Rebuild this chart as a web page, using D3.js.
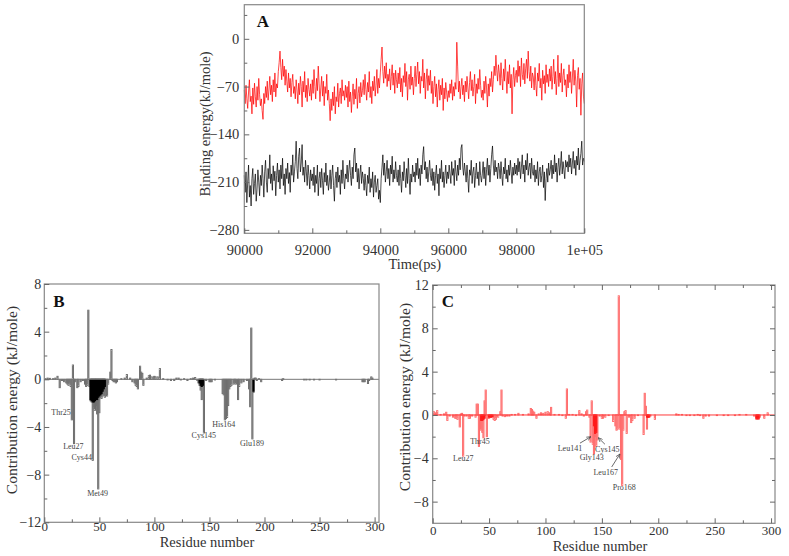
<!DOCTYPE html>
<html><head><meta charset="utf-8">
<script src="https://cdn.jsdelivr.net/npm/d3@7"></script>
<style>
body{margin:0;background:#fff}
svg{display:block}
text{font-family:"Liberation Serif","Times New Roman",serif}
</style>
</head><body><svg id="c" width="789" height="556"></svg>
<script>
// ---------- Panel A data (binding energy vs time, one value per 25 ps) ----------
const timeStart = 90000, timeStep = 25;
const redEnergy = [
-75,-95,-68,-88,-102,-78,-60,-92,-84,-110,-72,-96,-65,-85,-100,-70,-90,-58,-82,-98,
-88,-105,-118,-80,-95,-70,-86,-62,-90,-75,-55,-82,-68,-92,-60,-78,-50,-85,-66,-72,
-48,-35,-18,-42,-60,-30,-55,-40,-68,-45,-62,-78,-50,-72,-58,-85,-64,-52,-80,-70,
-88,-60,-75,-95,-65,-82,-55,-70,-100,-62,-78,-48,-86,-68,-92,-58,-74,-84,-66,-90,
-60,-80,-45,-70,-88,-58,-76,-40,-66,-92,-72,-55,-84,-62,-98,-70,-80,-52,-90,-75,
-95,-120,-88,-105,-78,-98,-70,-110,-85,-92,-65,-100,-80,-72,-95,-60,-84,-76,-90,-68,
-86,-70,-100,-62,-92,-78,-108,-84,-66,-96,-74,-88,-58,-102,-80,-70,-94,-64,-85,-76,
-60,-82,-52,-74,-90,-64,-78,-48,-86,-70,-95,-62,-76,-55,-84,-68,-45,-80,-58,-72,
-50,-30,-12,-48,-65,-40,-58,-35,-70,-52,-62,-44,-75,-55,-38,-68,-50,-80,-46,-60,
-72,-50,-66,-42,-78,-58,-85,-54,-64,-36,-70,-48,-90,-60,-52,-74,-40,-68,-56,-82,
-58,-40,-70,-52,-34,-66,-48,-80,-55,-62,-30,-72,-50,-88,-60,-44,-76,-54,-68,-46,
-80,-62,-95,-70,-55,-85,-66,-100,-74,-60,-90,-68,-82,-58,-105,-72,-88,-64,-78,-92,
-76,-86,-66,-80,-60,-90,-70,-84,-64,-74,-5,-40,-78,-62,-88,-70,-58,-82,-68,-92,
-62,-78,-55,-72,-88,-64,-48,-76,-60,-84,-70,-52,-95,-66,-80,-58,-74,-45,-68,-86,
-75,-90,-62,-80,-55,-72,-100,-66,-84,-58,-70,-48,-78,-60,-40,-54,-24,-46,-62,-38,
-50,-68,-35,-58,-75,-44,-62,-30,-56,-80,-48,-66,-38,-72,-52,-110,-60,-42,-70,-54,
-46,-64,-32,-55,-40,-70,-28,-52,-60,-36,-66,-44,-30,-58,-18,-48,-62,-40,-72,-50,
-56,-75,-42,-68,-84,-50,-62,-36,-72,-58,-90,-46,-66,-54,-80,-38,-64,-52,-70,-44,
-62,-40,-74,-55,-30,-66,-48,-82,-58,-24,-70,-50,-64,-36,-78,-54,-44,-68,-60,-85,
-52,-72,-38,-64,-48,-80,-56,-30,-68,-46,-62,-100,-54,-42,-74,-58,-112,-66,-50,-84,
-95
];
const blackEnergy = [
-200,-225,-195,-240,-210,-185,-232,-215,-245,-205,-190,-228,-212,-198,-238,-220,-192,-210,-230,-200,
-215,-185,-205,-232,-195,-178,-210,-225,-190,-205,-170,-212,-198,-222,-186,-208,-194,-230,-200,-182,
-210,-192,-220,-185,-205,-175,-215,-198,-228,-190,-205,-182,-212,-196,-225,-185,-200,-170,-210,-195,
-180,-150,-190,-205,-172,-160,-195,-182,-155,-200,-188,-210,-178,-195,-215,-185,-200,-220,-192,-208,
-198,-215,-188,-225,-200,-212,-185,-230,-205,-195,-218,-190,-208,-228,-196,-210,-182,-215,-200,-222,
-210,-192,-220,-200,-185,-215,-238,-205,-195,-218,-188,-210,-200,-228,-192,-212,-178,-205,-220,-198,
-205,-185,-210,-192,-178,-200,-215,-188,-205,-170,-160,-195,-182,-210,-190,-220,-198,-185,-212,-195,
-205,-222,-198,-215,-230,-200,-212,-188,-225,-205,-218,-195,-232,-210,-200,-225,-215,-205,-235,-222,
-240,-205,-188,-170,-200,-182,-210,-195,-178,-205,-190,-215,-185,-198,-172,-210,-192,-205,-180,-200,
-210,-192,-215,-185,-205,-225,-195,-208,-180,-200,-218,-190,-212,-175,-205,-228,-198,-210,-185,-202,
-195,-210,-182,-200,-175,-205,-190,-215,-185,-198,-170,-158,-192,-180,-205,-188,-210,-195,-178,-200,
-208,-190,-215,-195,-222,-200,-185,-212,-198,-230,-190,-205,-178,-210,-195,-218,-200,-185,-212,-195,
-205,-185,-198,-212,-180,-200,-190,-215,-178,-195,-208,-185,-200,-175,-192,-160,-155,-188,-200,-182,
-195,-210,-185,-205,-225,-192,-200,-178,-212,-195,-188,-218,-200,-182,-205,-195,-215,-180,-200,-210,
-198,-180,-205,-188,-215,-192,-175,-200,-185,-210,-190,-170,-157,-185,-200,-178,-195,-188,-205,-182,
-190,-205,-180,-200,-215,-188,-198,-175,-205,-192,-210,-185,-200,-178,-195,-212,-188,-200,-182,-198,
-185,-200,-175,-195,-180,-205,-188,-170,-198,-185,-210,-178,-192,-168,-200,-188,-182,-205,-175,-195,
-200,-185,-210,-192,-205,-180,-215,-195,-188,-210,-200,-185,-218,-195,-237,-205,-190,-210,-182,-200,
-192,-178,-205,-185,-198,-170,-195,-182,-210,-188,-175,-200,-185,-165,-198,-180,-192,-205,-178,-188,
-180,-195,-170,-188,-175,-198,-182,-165,-190,-178,-200,-172,-185,-160,-192,-178,-168,-150,-185,-175,
-180
];
const aYTicks = [0, -70, -140, -210, -280];
const aYMinor = [35, -35, -105, -175, -245];
const aXTicks = [90000, 92000, 94000, 96000, 98000, 100000];
const aXTickLabels = ["90000", "92000", "94000", "96000", "98000", "1e+05"];
const aXMinor = [91000, 93000, 95000, 97000, 99000];

// ---------- Panel B data (per-residue contribution energy) ----------
const bResidues = [1,3,5,8,10,12,14,16,18,20,21,22,23,24,25,26,27,28,30,31,33,35,37,38,39,40,41,42,43,44,45,46,47,48,49,50,51,52,53,54,55,56,57,58,60,61,62,63,64,65,66,70,73,75,78,80,82,83,84,85,87,88,89,90,93,95,96,97,99,100,101,103,105,108,112,115,118,120,122,124,127,130,133,135,137,139,140,141,142,143,144,145,147,150,151,152,155,162,163,164,165,166,167,168,169,170,172,173,174,176,177,179,181,184,186,187,188,189,190,191,192,193,195,197,216,217,236,238,241,245,250,265,289,290,291,294,295,297,298];
const bValues = [0.05,0.1,0.08,0.05,0.1,0.25,-0.7,-0.1,-0.2,-0.3,-0.4,-0.5,-0.3,-0.6,-3.4,1.2,-5.4,-0.2,-0.7,-0.6,-0.2,-0.1,-0.4,-0.6,-0.5,5.8,-0.6,-1.8,-1.9,-6.8,-2.4,-2.6,-2.2,-2.9,-9.2,-2.8,-1.5,-1.6,-1.4,-1.3,-1.5,-1.0,-1.4,-0.4,0.6,2.5,-0.1,-0.2,-0.2,-0.3,-0.2,0.05,0.1,0.4,0.1,-0.2,-0.3,-0.5,-0.6,-0.8,1.1,0.6,0.5,-0.5,0.1,0.3,0.35,0.2,0.2,0.25,0.2,0.2,0.9,0.05,-0.05,-0.1,-0.1,0.1,0.1,-0.05,0.05,-0.1,0.05,0.1,0.15,-0.1,-0.3,-0.5,-0.9,-1.7,-0.6,-4.5,-0.1,-0.2,-0.2,-0.2,-0.05,-1.2,-1.3,-3.4,-3.3,-3.2,-2.2,-0.8,-0.6,-0.5,-0.4,-0.3,-0.4,-1.7,-0.6,-0.3,-0.2,-0.1,-0.8,-2.3,4.3,-5.0,-1.1,0.1,0.1,-0.1,0.05,-0.2,-0.1,0.05,-0.05,-0.05,-0.05,-0.05,-0.05,-0.05,-0.2,-0.2,-0.2,-0.35,-0.1,0.2,0.1];
const bDarkResidues = [42,43,44,45,46,47,48,49,50,51,52,53,54,55,141,142,143,144,190];
const bDarkValues = [-1.7,-1.8,-1.9,-1.9,-1.8,-1.7,-1.7,-1.5,-1.4,-1.3,-1.2,-1.0,-0.8,-0.6,-0.3,-0.5,-0.6,-0.5,-1.0];
const bLabelNames = ["Thr25","Leu27","Cys44","Met49","Cys145","His164","Glu189"];
const bLabelRes = [15.2, 26.4, 34.0, 48.4, 144.9, 163.0, 188.7];
const bLabelVal = [-2.8, -5.6, -6.5, -9.57, -4.7, -3.75, -5.32];

// ---------- Panel C data ----------
const cResidues = [1,3,4,7,10,12,13,15,18,20,21,22,24,25,26,27,28,30,32,33,35,38,39,40,41,42,43,44,45,46,47,48,49,50,52,54,55,56,58,60,61,62,64,66,68,70,73,76,80,85,87,88,89,90,92,94,96,98,100,102,104,105,108,112,115,118,119,121,124,127,130,132,134,136,137,139,140,141,142,143,144,145,146,148,150,151,153,156,160,162,163,164,165,166,167,168,169,170,171,172,174,176,177,179,182,187,188,189,190,191,193,197,216,218,221,225,228,232,235,237,240,242,245,252,258,262,268,272,278,285,287,288,289,290,294,297];
const cValues = [0.3,0.2,0.4,0.05,0.1,0.25,-0.5,-0.1,-0.2,-0.3,-0.3,-0.4,-1.1,0.1,0.15,-3.8,-0.1,-0.1,-0.3,-0.3,-0.1,-0.2,1.0,1.0,-2.9,-1.4,-1.3,-1.6,-2.1,1.3,2.3,-2.0,-0.3,-0.3,-0.2,-0.4,-0.5,-0.4,-0.2,0.3,2.3,-0.1,-0.15,-0.1,-0.1,0.05,0.05,0.15,0.05,0.1,0.6,0.5,0.35,0.25,-0.3,0.1,0.2,0.15,0.25,0.3,0.2,0.7,0.05,0.05,-0.05,-0.3,2.4,0.05,0.05,-0.05,0.4,0.1,-0.1,0.3,0.45,-0.2,-2.5,1.3,-2.7,-3.6,-2.0,-2.9,-2.3,-0.1,-0.3,-0.3,-0.2,-0.05,-0.6,-1.0,-1.4,-1.3,11.0,-1.3,-4.1,-6.5,-1.4,0.3,0.4,-1.7,-0.2,-0.7,-0.5,-0.3,-0.05,-1.8,2.0,0.8,-1.3,-0.2,-0.1,-0.4,0.1,0.05,0.05,-0.05,-0.05,-0.05,0.05,-0.05,-0.3,-0.1,-0.1,-0.05,-0.05,-0.05,-0.05,0.05,0.05,-0.1,-0.4,-0.4,-0.4,-0.2,-0.3,0.2];
const cDarkResidues = [43,44,45,46,50,51,52,53,143,144,145,190,191,192,287,288,289];
const cDarkValues = [-0.5,-0.5,-0.4,-0.3,-0.2,-0.2,-0.2,-0.15,-1.0,-1.7,-1.6,-0.2,-0.2,-0.2,-0.3,-0.35,-0.3];
const cLabelNames = ["Leu27","Thr45","Leu141","Gly143","Cys145","Leu167","Pro168"];
const cLabelRes = [27.1, 41.9, 121.7, 141, 154.8, 153.4, 169.9];
const cLabelVal = [-4.0, -2.4, -3.08, -3.94, -3.14, -5.3, -6.68];
const cArrowFromRes = [130.6, 152.7, 158.7], cArrowFromVal = [-2.6, -2.7, -4.8];
const cArrowToRes = [140.3, 146.8, 166.0], cArrowToVal = [-2.0, -2.1, -3.6];

const resTicks = [0, 50, 100, 150, 200, 250, 300];
const resMinor = [25, 75, 125, 175, 225, 275];
const bYTicks = [8, 4, 0, -4, -8, -12];
const cYTicks = [12, 8, 4, 0, -4, -8];
const contribMinorB = [6, 2, -2, -6, -10];
const contribMinorC = [10, 6, 2, -2, -6];

// ---------- drawing ----------
const svg = d3.select("#c");

function styleAxis(a, size) {
  a.select(".domain").remove();
  a.attr("font-family", null).attr("font-size", size);
  a.selectAll("line").attr("stroke", "#666").attr("stroke-width", 1);
  a.selectAll("text").attr("fill", "#333");
  return a;
}
function frame(x0, x1, y0, y1) {
  svg.append("rect").attr("x", x0).attr("y", y0).attr("width", x1 - x0).attr("height", y1 - y0)
    .attr("fill", "none").attr("stroke", "#888").attr("stroke-width", 1.2);
}
function text(x, y, s, size, opts = {}) {
  const t = svg.append("text").attr("x", x).attr("y", y).text(s)
    .attr("font-size", size).attr("fill", opts.fill || "#333")
    .attr("text-anchor", opts.anchor || "middle");
  if (opts.weight) t.attr("font-weight", opts.weight);
  if (opts.rotate) t.attr("transform", `rotate(-90,${x},${y})`);
  if (opts.dy) t.attr("dy", opts.dy);
  return t;
}

// ===== Panel A =====
const axL = 244.3, axR = 584.3, ayT = 4.7, ayB = 233.3;
const ax = d3.scaleLinear().domain([90000, 100000]).range([axL, axR]);
const ay = d3.scaleLinear().domain([-285, 50]).range([ayB, ayT]);
const lineA = d3.line().x((d, i) => ax(timeStart + i * timeStep)).y(d => ay(d));
svg.append("path").datum(redEnergy).attr("d", lineA).attr("fill", "none").attr("stroke", "#ff0000").attr("stroke-width", 0.9).attr("stroke-opacity", 0.8);
svg.append("path").datum(blackEnergy).attr("d", lineA).attr("fill", "none").attr("stroke", "#000").attr("stroke-width", 0.9).attr("stroke-opacity", 0.78);
frame(axL, axR, ayT, ayB);
styleAxis(svg.append("g").attr("transform", `translate(0,${ayB})`)
  .call(d3.axisBottom(ax).tickValues(aXTicks).tickFormat((d, i) => aXTickLabels[i]).tickSizeInner(-5).tickSizeOuter(0).tickPadding(11)), 14.5);
styleAxis(svg.append("g").attr("transform", `translate(0,${ayB})`)
  .call(d3.axisBottom(ax).tickValues(aXMinor).tickFormat("").tickSizeInner(-3).tickSizeOuter(0)), 14.5);
styleAxis(svg.append("g").attr("transform", `translate(${axL},0)`)
  .call(d3.axisLeft(ay).tickValues(aYTicks).tickFormat(d3.format("d")).tickSizeInner(-5).tickSizeOuter(0).tickPadding(5)), 14.5);
styleAxis(svg.append("g").attr("transform", `translate(${axL},0)`)
  .call(d3.axisLeft(ay).tickValues(aYMinor).tickFormat("").tickSizeInner(-3).tickSizeOuter(0)), 14.5);
text(205, 124, "Binding energy(kJ/mole)", 14.5, { rotate: true, dy: "0.35em" });
text(414.7, 269, "Time(ps)", 14.5);
text(256.7, 26.7, "A", 17, { anchor: "start", weight: "bold", fill: "#111" });

// ===== bar panel helper =====
function barPanel(cfg) {
  const x = d3.scaleLinear().domain(cfg.xDomain).range([cfg.L, cfg.R]);
  const y = d3.scaleLinear().domain(cfg.yDomain).range([cfg.B, cfg.T]);
  const w = x(1) - x(0);
  const g = svg.append("g");
  const mk = (res, vals, fill, stroke) => g.append("g").selectAll("rect").data(res.map((r, i) => [r, vals[i]])).join("rect")
    .attr("x", d => x(d[0]) - w / 2).attr("width", w)
    .attr("y", d => y(Math.max(0, d[1]))).attr("height", d => Math.max(0.6, Math.abs(y(d[1]) - y(0))))
    .attr("fill", fill).attr("stroke", stroke).attr("stroke-width", 1);
  mk(cfg.res, cfg.vals, cfg.fill, cfg.stroke);
  mk(cfg.darkRes, cfg.darkVals, cfg.darkFill, cfg.darkFill);
  svg.append("line").attr("x1", cfg.L).attr("x2", cfg.R).attr("y1", y(0)).attr("y2", y(0))
    .attr("stroke", cfg.zeroColor).attr("stroke-width", 1);
  frame(cfg.L, cfg.R, cfg.T, cfg.B);
  styleAxis(svg.append("g").attr("transform", `translate(0,${cfg.B})`)
    .call(d3.axisBottom(x).tickValues(resTicks).tickSizeInner(-5).tickSizeOuter(0).tickPadding(cfg.xPad)), 13);
  styleAxis(svg.append("g").attr("transform", `translate(0,${cfg.B})`)
    .call(d3.axisBottom(x).tickValues(resMinor).tickFormat("").tickSizeInner(-3).tickSizeOuter(0)), 13);
  styleAxis(svg.append("g").attr("transform", `translate(${cfg.L},0)`)
    .call(d3.axisLeft(y).tickValues(cfg.yTicks).tickFormat(d3.format("d")).tickSizeInner(-5).tickSizeOuter(0).tickPadding(cfg.yPad)), 14);
  styleAxis(svg.append("g").attr("transform", `translate(${cfg.L},0)`)
    .call(d3.axisLeft(y).tickValues(cfg.yMinor).tickFormat("").tickSizeInner(-3).tickSizeOuter(0)), 14);
  if (cfg.mirror) {
    styleAxis(svg.append("g").attr("transform", `translate(0,${cfg.T})`)
      .call(d3.axisTop(x).tickValues(resTicks).tickFormat("").tickSizeInner(-5).tickSizeOuter(0)), 14);
    styleAxis(svg.append("g").attr("transform", `translate(0,${cfg.T})`)
      .call(d3.axisTop(x).tickValues(resMinor).tickFormat("").tickSizeInner(-3).tickSizeOuter(0)), 14);
    styleAxis(svg.append("g").attr("transform", `translate(${cfg.R},0)`)
      .call(d3.axisRight(y).tickValues(cfg.yTicks).tickFormat("").tickSizeInner(-5).tickSizeOuter(0)), 14);
    styleAxis(svg.append("g").attr("transform", `translate(${cfg.R},0)`)
      .call(d3.axisRight(y).tickValues(cfg.yMinor).tickFormat("").tickSizeInner(-3).tickSizeOuter(0)), 14);
  }
  cfg.labelNames.forEach((s, i) => text(x(cfg.labelRes[i]), y(cfg.labelVal[i]), s, 8, { dy: "0.35em", fill: "#444" }));
  return { x, y };
}

// ===== Panel B =====
barPanel({
  L: 44.3, R: 379, T: 284, B: 522.3, xDomain: [0, 304], yDomain: [-12, 8],
  res: bResidues, vals: bValues, fill: "#a6a6a6", stroke: "#6e6e6e",
  darkRes: bDarkResidues, darkVals: bDarkValues, darkFill: "#000",
  zeroColor: "#777", yTicks: bYTicks, yMinor: contribMinorB, xPad: -1, yPad: 3, mirror: false,
  labelNames: bLabelNames, labelRes: bLabelRes, labelVal: bLabelVal
});
text(11.7, 400, "Contribution energy (kJ/mole)", 15.5, { rotate: true, dy: "0.35em" });
text(207, 547, "Residue number", 14.5);
text(53.3, 307, "B", 17, { anchor: "start", weight: "bold", fill: "#111" });

// ===== Panel C =====
const pc = barPanel({
  L: 432.7, R: 775, T: 285, B: 523.3, xDomain: [0, 303.5], yDomain: [-10, 12],
  res: cResidues, vals: cValues, fill: "#ffabab", stroke: "#ff6c6c",
  darkRes: cDarkResidues, darkVals: cDarkValues, darkFill: "#ff1a1a",
  zeroColor: "#ff3b3b", yTicks: cYTicks, yMinor: contribMinorC, xPad: 2, yPad: 4, mirror: true,
  labelNames: cLabelNames, labelRes: cLabelRes, labelVal: cLabelVal
});
svg.append("defs").append("marker").attr("id", "ah").attr("viewBox", "0 0 10 10").attr("refX", 9).attr("refY", 5)
  .attr("markerWidth", 6).attr("markerHeight", 6).attr("orient", "auto")
  .append("path").attr("d", "M0,1 L9,5 L0,9").attr("fill", "none").attr("stroke", "#444").attr("stroke-width", 1.4);
cArrowFromRes.forEach((r, i) => svg.append("line")
  .attr("x1", pc.x(r)).attr("y1", pc.y(cArrowFromVal[i]))
  .attr("x2", pc.x(cArrowToRes[i])).attr("y2", pc.y(cArrowToVal[i]))
  .attr("stroke", "#444").attr("stroke-width", 0.8).attr("marker-end", "url(#ah)"));
text(405, 397, "Contribution energy (kJ/mole)", 15.5, { rotate: true, dy: "0.35em" });
text(600, 551, "Residue number", 14.5);
text(441.7, 307, "C", 17, { anchor: "start", weight: "bold", fill: "#111" });
</script>
</body></html>
